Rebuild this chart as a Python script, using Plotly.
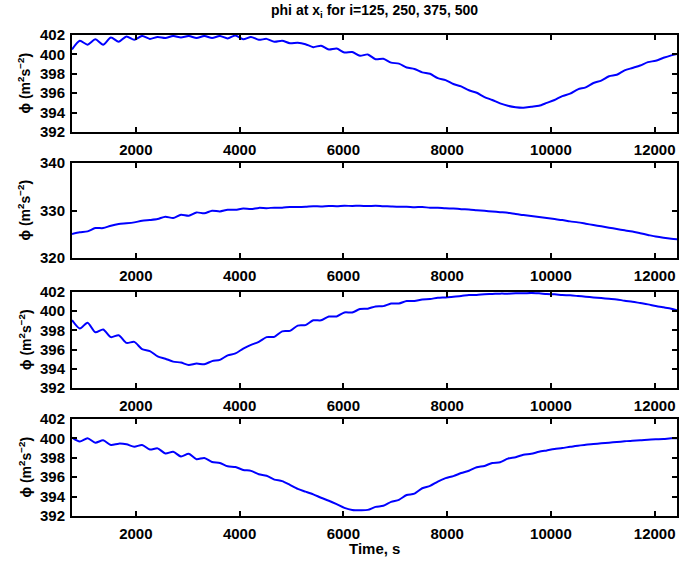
import numpy as np
import plotly.graph_objects as go

# sample times (s)
time_s = np.arange(770, 12471, 150)

phi_i125 = [400.5, 401.4, 401.0, 401.55, 401.0, 401.75, 401.3, 401.85, 401.5, 401.9,
            401.6, 401.8, 401.7, 401.9, 401.75, 401.9, 401.7, 401.9, 401.7, 401.9,
            401.65, 401.95, 401.55, 401.8, 401.5, 401.6, 401.3, 401.4, 401.15, 401.2,
            401.05, 400.75, 400.9, 400.5, 400.6, 400.2, 400.25, 399.85, 400.0, 399.5,
            399.55, 399.15, 399.05, 398.65, 398.5, 398.15, 398.0, 397.55, 397.35, 396.95,
            396.7, 396.3, 396.05, 395.6, 395.3, 394.95, 394.7, 394.55, 394.5, 394.6,
            394.7, 395.0, 395.3, 395.7, 395.95, 396.4, 396.6, 397.05, 397.3, 397.75,
            397.9, 398.35, 398.6, 398.85, 399.2, 399.35, 399.65, 399.9, 400.1]

phi_i250 = [325.07, 325.4, 325.6, 326.3, 326.3, 326.8, 327.15, 327.3, 327.5, 327.85,
            328.0, 328.2, 328.7, 328.4, 329.1, 328.9, 329.6, 329.4, 329.95, 329.8,
            330.15, 330.15, 330.4, 330.3, 330.55, 330.5, 330.6, 330.6, 330.75, 330.75,
            330.8, 330.9, 330.85, 330.95, 330.9, 331.0, 330.95, 331.0, 330.93, 331.0,
            330.9, 330.85, 330.8, 330.8, 330.7, 330.72, 330.6, 330.6, 330.45, 330.42,
            330.28, 330.22, 330.07, 329.93, 329.79, 329.65, 329.51, 329.24, 329.03, 328.82,
            328.61, 328.4, 328.19, 327.99, 327.71, 327.5, 327.22, 326.94, 326.67, 326.39,
            326.11, 325.83, 325.56, 325.21, 324.86, 324.51, 324.24, 324.03, 323.89]

phi_i375 = [399.07, 398.2, 398.8, 397.8, 398.1, 397.3, 397.5, 396.7, 396.8, 396.05,
            395.85, 395.3, 395.05, 394.75, 394.65, 394.4, 394.55, 394.47, 394.8, 394.93,
            395.4, 395.6, 396.1, 396.5, 396.8, 397.3, 397.33, 397.9, 397.95, 398.5,
            398.55, 399.05, 399.05, 399.45, 399.45, 399.87, 399.87, 400.22, 400.26, 400.5,
            400.53, 400.8, 400.8, 401.06, 401.06, 401.23, 401.27, 401.4, 401.44, 401.51,
            401.58, 401.69, 401.69, 401.76, 401.79, 401.83, 401.83, 401.86, 401.86, 401.9,
            401.86, 401.79, 401.76, 401.69, 401.65, 401.58, 401.51, 401.44, 401.37, 401.3,
            401.23, 401.09, 400.99, 400.85, 400.71, 400.54, 400.4, 400.26, 400.01]

phi_i500 = [400.08, 399.67, 400.01, 399.56, 399.8, 399.32, 399.46, 399.39, 399.14, 399.32,
            398.86, 398.97, 398.45, 398.62, 398.13, 398.41, 397.85, 397.99, 397.57, 397.47,
            397.12, 397.05, 396.75, 396.65, 396.3, 396.15, 395.75, 395.6, 395.2, 394.79,
            394.51, 394.23, 393.88, 393.57, 393.22, 392.84, 392.63, 392.6, 392.63, 392.94,
            393.05, 393.46, 393.67, 394.16, 394.3, 394.86, 395.1, 395.55, 395.9, 396.11,
            396.43, 396.67, 397.02, 397.16, 397.47, 397.54, 397.92, 398.06, 398.31, 398.41,
            398.62, 398.76, 398.9, 399.0, 399.14, 399.25, 399.35, 399.42, 399.49, 399.56,
            399.63, 399.7, 399.77, 399.8, 399.87, 399.91, 399.94, 400.01, 400.01]

x_ticks = [2000, 4000, 6000, 8000, 10000, 12000]
x_tick_text = ["2000", "4000", "6000", "8000", "10000", "12000"]
y_ticks_a = [392, 394, 396, 398, 400, 402]
y_ticks_b = [320, 330, 340]

series = [phi_i125, phi_i250, phi_i375, phi_i500]
y_ranges = [[392, 402], [320, 340], [392, 402], [392, 402]]
y_ticks = [y_ticks_a, y_ticks_b, y_ticks_a, y_ticks_a]

W, H = 680, 563
px_left, px_right = 72, 677
panel_px = [(35, 132), (163, 258), (292, 388), (419, 516)]

FONT = "Liberation Sans"
fig = go.Figure()
layout = dict(
    width=W, height=H,
    margin=dict(l=0, r=0, t=0, b=0, pad=0, autoexpand=False),
    paper_bgcolor="white", plot_bgcolor="white",
    showlegend=False,
    font=dict(family=FONT, size=15, color="black"),
)
annotations = []
for i, vals in enumerate(series):
    n = "" if i == 0 else str(i + 1)
    fig.add_trace(go.Scatter(x=time_s, y=vals, mode="lines",
                             line=dict(color="#0000ff", width=2, shape="spline", smoothing=0.7),
                             xaxis="x" + n, yaxis="y" + n, hoverinfo="skip"))
    top, bot = panel_px[i]
    ydom = [1 - bot / H, 1 - top / H]
    axcommon = dict(showgrid=False, zeroline=False, showline=True, linecolor="black",
                    linewidth=2, mirror="allticks", ticks="inside", ticklen=5,
                    tickwidth=1.5, tickcolor="black", automargin=False,
                    tickfont=dict(family=FONT, size=15, color="black", weight="bold"))
    layout["xaxis" + n] = dict(domain=[px_left / W, px_right / W], range=[770, 12430],
                               tickvals=x_ticks, ticktext=x_tick_text, anchor="y" + n,
                               ticklabelstandoff=3, **axcommon)
    layout["yaxis" + n] = dict(domain=ydom, range=y_ranges[i], tickvals=y_ticks[i],
                               ticktext=[str(v) for v in y_ticks[i]],
                               anchor="x" + n, ticklabelstandoff=2, **axcommon)
    annotations.append(dict(text="<b>ϕ (m<sup>2</sup>s<sup>−2</sup>)</b>", textangle=-90,
                            x=25 / W, y=(ydom[0] + ydom[1]) / 2,
                            xref="paper", yref="paper", xanchor="center", yanchor="middle",
                            showarrow=False, font=dict(family=FONT, size=14, color="black")))

annotations.append(dict(text="<b>phi at x<sub>i</sub> for i=125, 250, 375, 500</b>",
                        x=(px_left + px_right) / 2 / W, y=1 - 11 / H,
                        xref="paper", yref="paper", xanchor="center", yanchor="middle",
                        showarrow=False, font=dict(family=FONT, size=14, color="black")))
annotations.append(dict(text="<b>Time, s</b>",
                        x=(px_left + px_right) / 2 / W, y=1 - 548 / H,
                        xref="paper", yref="paper", xanchor="center", yanchor="middle",
                        showarrow=False, font=dict(family=FONT, size=15, color="black")))
layout["annotations"] = annotations
fig.update_layout(**layout)
fig.write_html("out.html")
